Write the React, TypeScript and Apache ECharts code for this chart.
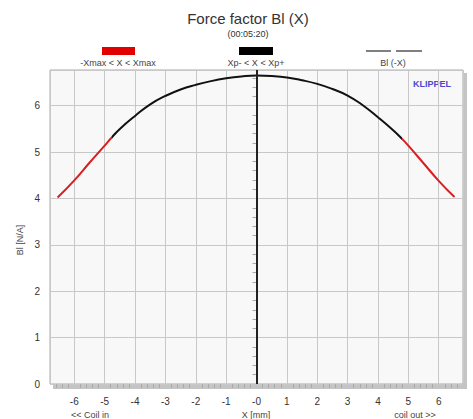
import React, { useEffect, useRef } from "react";
import * as echarts from "echarts";

const xValues = [-6.55, -6, -5.5, -5, -4.76, -4.5, -4, -3.5, -3, -2.5, -2, -1.5, -1, -0.5, 0, 0.5, 1, 1.5, 2, 2.5, 3, 3.5, 4, 4.5, 4.8, 5, 5.5, 6, 6.52];
const blValues = [4.02, 4.39, 4.77, 5.14, 5.32, 5.5, 5.78, 6.03, 6.21, 6.35, 6.45, 6.53, 6.59, 6.63, 6.65, 6.64, 6.61, 6.55, 6.47, 6.36, 6.22, 6.01, 5.75, 5.47, 5.28, 5.14, 4.76, 4.38, 4.03];
const xmaxLeft = -4.76;
const xmaxRight = 4.8;
const legendLabels = ["-Xmax < X < Xmax", "Xp- < X < Xp+", "Bl (-X)"];

export default function App() {
  const ref = useRef<HTMLDivElement>(null);
  useEffect(() => {
    if (!ref.current) return;
    const chart = echarts.init(ref.current, null, { renderer: "svg" });
    const pts = xValues.map((x, i) => [x, blValues[i]]);
    const font = "Liberation Sans, Arial, sans-serif";
    chart.setOption({
      animation: false,
      backgroundColor: "#ffffff",
      textStyle: { fontFamily: font },
      grid: {
        left: 50,
        right: 10,
        top: 70,
        bottom: 35,
        show: true,
        backgroundColor: "#f8f8f8",
        borderColor: "#aaaaaa",
        borderWidth: 1,
      },
      visualMap: {
        show: false,
        type: "piecewise",
        dimension: 0,
        seriesIndex: 0,
        pieces: [
          { lt: xmaxLeft, color: "#d81e1e" },
          { gte: xmaxLeft, lte: xmaxRight, color: "#111111" },
          { gt: xmaxRight, color: "#d81e1e" },
        ],
      },
      xAxis: {
        type: "value",
        min: -6.8,
        max: 6.8,
        splitNumber: 14,
        minInterval: 1,
        maxInterval: 1,
        axisLine: { show: false },
        axisTick: { show: false },
        minorTick: { show: true, splitNumber: 5, length: 4, lineStyle: { color: "#aaaaaa" } },
        axisLabel: {
          showMinLabel: false,
          showMaxLabel: false,
          fontSize: 10,
          color: "#333",
          margin: 12,
          formatter: (v: number) => (v === 0 ? "-0" : String(v)),
        },
        splitLine: { show: true, lineStyle: { color: "#c8c8c8", width: 1 } },
      },
      yAxis: {
        type: "value",
        min: 0,
        max: 6.77,
        interval: 1,
        axisLine: { show: true, lineStyle: { color: "#aaaaaa" } },
        axisTick: { show: false },
        minorTick: { show: true, splitNumber: 5, length: 4, lineStyle: { color: "#aaaaaa" } },
        axisLabel: { showMaxLabel: false, fontSize: 10, color: "#333", margin: 10 },
        splitLine: { show: true, lineStyle: { color: "#c8c8c8", width: 1 } },
      },
      series: [
        {
          type: "line",
          data: pts,
          showSymbol: false,
          smooth: 0.5,
          lineStyle: { width: 2 },
          z: 3,
          markLine: {
            silent: true,
            symbol: "none",
            label: { show: false },
            lineStyle: { color: "#222", width: 2, type: "solid" },
            data: [{ xAxis: 0 }],
          },
        },
      ],
      graphic: [
        { type: "rect", shape: { x: 463, y: 73, width: 4, height: 316 }, style: { fill: "#c4c4c4" }, silent: true },
        { type: "rect", shape: { x: 53, y: 384, width: 414, height: 5 }, style: { fill: "#c4c4c4" }, silent: true },
        {
          type: "text", x: 248, y: 11,
          style: { text: "Force factor Bl (X)", fontSize: 15, fill: "#333", align: "center", fontFamily: font },
        },
        {
          type: "text", x: 248, y: 29,
          style: { text: "(00:05:20)", fontSize: 9, fill: "#333", align: "center", fontFamily: font },
        },
        { type: "rect", shape: { x: 102, y: 47, width: 33, height: 8 }, style: { fill: "#e00000" } },
        { type: "rect", shape: { x: 239, y: 47, width: 34, height: 8 }, style: { fill: "#000000" } },
        { type: "line", shape: { x1: 366, y1: 51, x2: 391, y2: 51 }, style: { stroke: "#808080", lineWidth: 2 } },
        { type: "line", shape: { x1: 396, y1: 51, x2: 422, y2: 51 }, style: { stroke: "#808080", lineWidth: 2 } },
        {
          type: "text", x: 118, y: 58,
          style: { text: legendLabels[0], fontSize: 9, fill: "#444", align: "center", fontFamily: font },
        },
        {
          type: "text", x: 256, y: 58,
          style: { text: legendLabels[1], fontSize: 9, fill: "#444", align: "center", fontFamily: font },
        },
        {
          type: "text", x: 393, y: 58,
          style: { text: legendLabels[2], fontSize: 9, fill: "#444", align: "center", fontFamily: font },
        },
        {
          type: "text", x: 432, y: 79,
          style: { text: "KLIPPEL", fontSize: 9, fontWeight: "bold", fill: "#4a4ad0", align: "center", fontFamily: font },
        },
        {
          type: "text", x: 20, y: 240, rotation: Math.PI / 2,
          style: { text: "Bl [N/A]", fontSize: 9, fill: "#444", align: "center", verticalAlign: "middle", fontFamily: font },
        },
        {
          type: "text", x: 90, y: 410,
          style: { text: "<< Coil in", fontSize: 9, fill: "#444", align: "center", fontFamily: font },
        },
        {
          type: "text", x: 256, y: 410,
          style: { text: "X [mm]", fontSize: 9, fill: "#444", align: "center", fontFamily: font },
        },
        {
          type: "text", x: 415, y: 410,
          style: { text: "coil out >>", fontSize: 9, fill: "#444", align: "center", fontFamily: font },
        },
      ],
    });
    return () => chart.dispose();
  }, []);
  return <div ref={ref} style={{ position: "fixed", left: 0, top: 0, width: 473, height: 419 }} />;
}
